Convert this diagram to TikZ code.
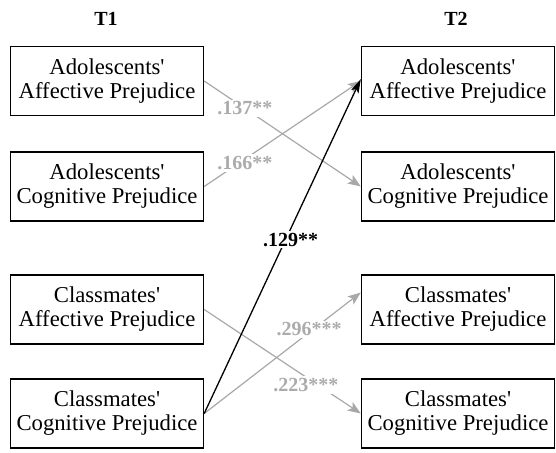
\documentclass[tikz,border=0pt]{standalone}
\usepackage{fontspec}
\setmainfont{Liberation Serif}[Ligatures=NoCommon]
\usetikzlibrary{arrows.meta}
\definecolor{lgray}{RGB}{168,168,168}
\definecolor{tgray}{RGB}{172,172,172}
\newcommand{\apos}{\textquotesingle}
\tikzset{
  box/.style={draw, line width=1.4pt, minimum width=193pt, minimum height=69pt,
    align=center, inner sep=0pt, font=\fontsize{22.7}{24}\selectfont},
  ttl/.style={font=\bfseries\fontsize{20}{22}\selectfont},
  gline/.style={draw=lgray, line width=1.2pt, -{Stealth[length=13pt,width=10pt,inset=3pt]}},
  bline/.style={draw=black, line width=1.3pt, -{Stealth[length=14pt,width=8pt,inset=3pt]}},
  glabel/.style={fill=white, inner sep=2pt, text=tgray, font=\bfseries\fontsize{20}{22}\selectfont},
  blabel/.style={fill=white, inner sep=2pt, text=black, font=\bfseries\fontsize{20}{22}\selectfont}
}
\begin{document}
\begin{tikzpicture}[x=1pt,y=-1pt]
\useasboundingbox (0,0) rectangle (556,452);
\node[ttl] (t1) at (106,19) {T1};
\node[ttl] (t2) at (456,19) {T2};
\node[box] (aa1) at (107,81) {Adolescents\apos\\Affective Prejudice};
\node[box] (ac1) at (107,186.5) {Adolescents\apos\\Cognitive Prejudice};
\node[box] (ca1) at (107,309.5) {Classmates\apos\\Affective Prejudice};
\node[box] (cc1) at (107,413.5) {Classmates\apos\\Cognitive Prejudice};
\node[box] (aa2) at (458,81) {Adolescents\apos\\Affective Prejudice};
\node[box] (ac2) at (458,186.5) {Adolescents\apos\\Cognitive Prejudice};
\node[box] (ca2) at (458,309.5) {Classmates\apos\\Affective Prejudice};
\node[box] (cc2) at (458,413.5) {Classmates\apos\\Cognitive Prejudice};
\draw[gline] (aa1.east) -- node[glabel, pos=0.26] {.137**} (ac2.west);
\draw[gline] (ac1.east) -- node[glabel, pos=0.26, yshift=-4pt] {.166**} (aa2.west);
\draw[gline] (cc1.east) -- node[glabel, pos=0.67, yshift=3pt] {.296***} ([yshift=17pt]ca2.west);
\draw[gline] (ca1.east) -- node[glabel, pos=0.65, yshift=-8pt] {.223***} (cc2.west);
\draw[bline] (cc1.east) -- node[blabel, pos=0.52, xshift=5pt] {.129**} ([yshift=2pt]aa2.west);
\end{tikzpicture}
\end{document}
